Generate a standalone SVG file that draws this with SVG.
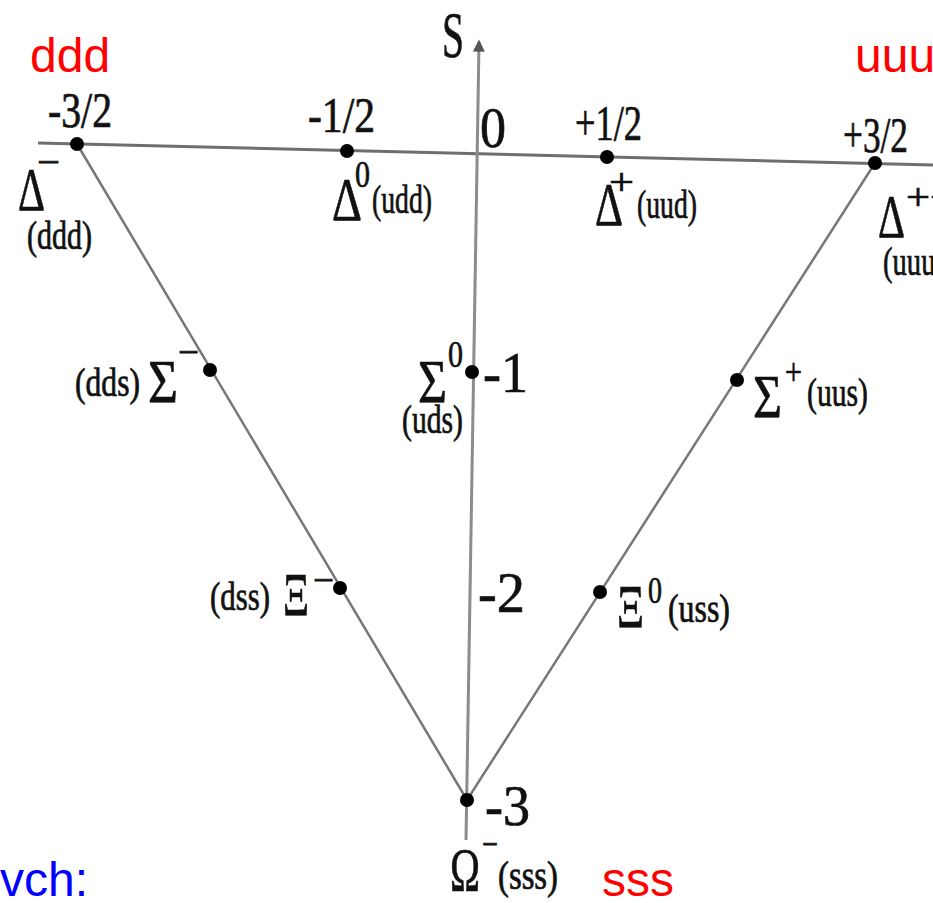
<svg xmlns="http://www.w3.org/2000/svg" width="933" height="903" viewBox="0 0 933 903">
<style>
.t{font-family:"Liberation Serif","Times New Roman",serif;fill:#111;stroke:#111;stroke-width:0.7}
.q{font-family:"Liberation Sans",Arial,sans-serif;font-size:48px}
.red{fill:#ff0000}
.blue{fill:#0000ff}
.big{font-size:62px}
.num{font-size:50px}
.ax{font-size:56px}
.sup{font-size:38px}
.par{font-size:39px}
.dot{fill:#000}
.ln{stroke:#6e6e6e;stroke-width:3;fill:none}
.side{stroke:#777;stroke-width:2.5;fill:none}
.vax{stroke:#8c8c8c;stroke-width:3;fill:none}
</style>
<defs>
<marker id="arr" viewBox="0 0 10 10" refX="8" refY="5" markerWidth="5" markerHeight="4" orient="auto" markerUnits="strokeWidth">
<path d="M0,0 L10,5 L0,10 Z" fill="#555"/>
</marker>
</defs>
<rect width="933" height="903" fill="#fff"/>
<g id="connectors">
<line class="ln" x1="38" y1="143" x2="933" y2="165"/>
<line class="vax" x1="466" y1="840" x2="479" y2="42" marker-end="url(#arr)"/>
<line class="side" x1="77" y1="144" x2="467" y2="800"/>
<line class="side" x1="875" y1="163" x2="467" y2="800"/>
</g>
<g id="labels-quarks">
<text class="q red" x="30" y="72">ddd</text>
<text class="q red" x="855" y="72">uuu</text>
<text class="q red" x="602" y="896">sss</text>
<text class="q blue" x="0" y="896">vch:</text>
</g>
<g id="axis-labels">
<text class="t" x="442" y="57" font-size="66" textLength="22" lengthAdjust="spacingAndGlyphs">S</text>
<text class="t ax" x="480" y="147" textLength="26" lengthAdjust="spacingAndGlyphs">0</text>
<text class="t ax" x="483" y="392" textLength="45" lengthAdjust="spacingAndGlyphs">-1</text>
<text class="t ax" x="478" y="612" textLength="47" lengthAdjust="spacingAndGlyphs">-2</text>
<text class="t ax" x="485" y="825" textLength="45" lengthAdjust="spacingAndGlyphs">-3</text>
<text class="t num" x="48" y="127" textLength="64" lengthAdjust="spacingAndGlyphs">-3/2</text>
<text class="t num" x="308" y="132" textLength="67" lengthAdjust="spacingAndGlyphs">-1/2</text>
<text class="t num" x="575" y="140" textLength="67" lengthAdjust="spacingAndGlyphs">+1/2</text>
<text class="t num" x="843" y="152" textLength="65" lengthAdjust="spacingAndGlyphs">+3/2</text>
</g>
<g id="delta-minus">
<circle class="dot" cx="77" cy="144" r="7"/>
<text class="t big" x="18" y="210" textLength="27" lengthAdjust="spacingAndGlyphs">Δ</text>
<text class="t sup" x="37" y="175" textLength="23" lengthAdjust="spacingAndGlyphs">−</text>
<text class="t par" x="27" y="249" textLength="65" lengthAdjust="spacingAndGlyphs">(ddd)</text>
</g>
<g id="delta-zero">
<circle class="dot" cx="347" cy="151" r="7"/>
<text class="t big" x="332" y="220" textLength="30" lengthAdjust="spacingAndGlyphs">Δ</text>
<text class="t sup" x="355" y="187" textLength="15" lengthAdjust="spacingAndGlyphs">0</text>
<text class="t par" x="372" y="213" textLength="60" lengthAdjust="spacingAndGlyphs">(udd)</text>
</g>
<g id="delta-plus">
<circle class="dot" cx="607" cy="157" r="7"/>
<text class="t big" x="595" y="225" textLength="28" lengthAdjust="spacingAndGlyphs">Δ</text>
<text class="t sup" x="609" y="195" textLength="25" lengthAdjust="spacingAndGlyphs">+</text>
<text class="t par" x="637" y="218" textLength="60" lengthAdjust="spacingAndGlyphs">(uud)</text>
</g>
<g id="delta-plusplus">
<circle class="dot" cx="875" cy="163" r="7"/>
<text class="t big" x="878" y="237" textLength="27" lengthAdjust="spacingAndGlyphs">Δ</text>
<text class="t sup" x="906" y="210" textLength="48" lengthAdjust="spacingAndGlyphs">++</text>
<text class="t par" x="883" y="275" textLength="62" lengthAdjust="spacingAndGlyphs">(uuu)</text>
</g>
<g id="sigma-minus">
<circle class="dot" cx="210" cy="370" r="7"/>
<text class="t par" x="75" y="396" textLength="65" lengthAdjust="spacingAndGlyphs">(dds)</text>
<text class="t big" x="148" y="402" textLength="30" lengthAdjust="spacingAndGlyphs">Σ</text>
<text class="t sup" x="178" y="365" textLength="21" lengthAdjust="spacingAndGlyphs">−</text>
</g>
<g id="sigma-zero">
<circle class="dot" cx="472" cy="372" r="7"/>
<text class="t big" x="418" y="402" textLength="29" lengthAdjust="spacingAndGlyphs">Σ</text>
<text class="t sup" x="448" y="367" textLength="15" lengthAdjust="spacingAndGlyphs">0</text>
<text class="t par" x="402" y="433" textLength="61" lengthAdjust="spacingAndGlyphs">(uds)</text>
</g>
<g id="sigma-plus">
<circle class="dot" cx="737" cy="380" r="7"/>
<text class="t big" x="753" y="417" textLength="29" lengthAdjust="spacingAndGlyphs">Σ</text>
<text class="t sup" x="785" y="385" textLength="17" lengthAdjust="spacingAndGlyphs">+</text>
<text class="t par" x="807" y="406" textLength="61" lengthAdjust="spacingAndGlyphs">(uus)</text>
</g>
<g id="xi-minus">
<circle class="dot" cx="340" cy="588" r="7"/>
<text class="t par" x="210" y="610" textLength="60" lengthAdjust="spacingAndGlyphs">(dss)</text>
<text class="t big" x="283" y="615" textLength="26" lengthAdjust="spacingAndGlyphs">Ξ</text>
<text class="t sup" x="313" y="593" textLength="21" lengthAdjust="spacingAndGlyphs">−</text>
</g>
<g id="xi-zero">
<circle class="dot" cx="600" cy="592" r="7"/>
<text class="t big" x="617" y="627" textLength="27" lengthAdjust="spacingAndGlyphs">Ξ</text>
<text class="t sup" x="648" y="603" textLength="14" lengthAdjust="spacingAndGlyphs">0</text>
<text class="t par" x="668" y="622" textLength="62" lengthAdjust="spacingAndGlyphs">(uss)</text>
</g>
<g id="omega-minus">
<circle class="dot" cx="467" cy="800" r="7"/>
<text class="t big" x="450" y="890" textLength="30" lengthAdjust="spacingAndGlyphs">Ω</text>
<text class="t sup" x="482" y="857" textLength="16" lengthAdjust="spacingAndGlyphs">−</text>
<text class="t par" x="498" y="889" textLength="60" lengthAdjust="spacingAndGlyphs">(sss)</text>
</g>
</svg>
